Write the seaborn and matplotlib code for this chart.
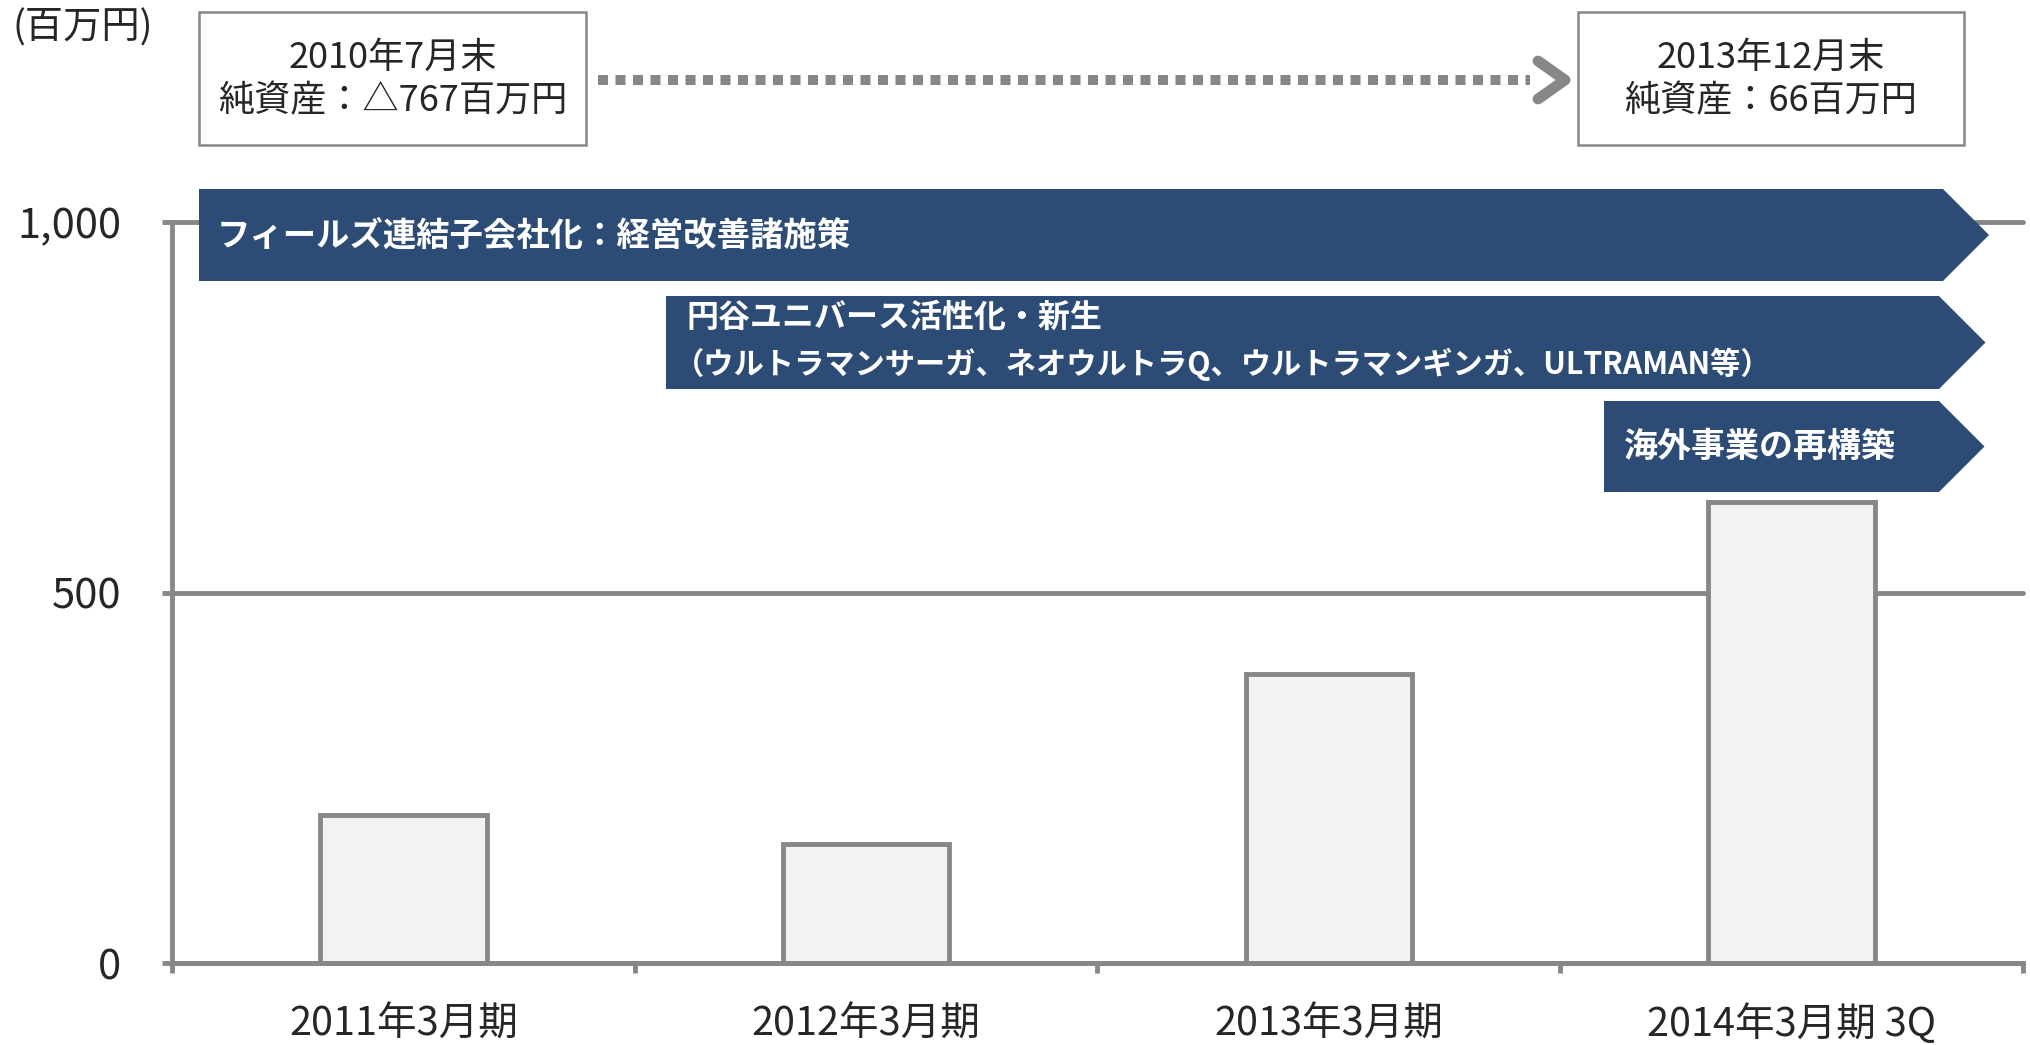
import numpy as np
import pandas as pd
import matplotlib
matplotlib.use("Agg")
import matplotlib.pyplot as plt
import seaborn as sns
from matplotlib.patches import Polygon, Rectangle
from matplotlib.lines import Line2D
from matplotlib.transforms import Affine2D

# ---- data ----
categories = ['2011年3月期', '2012年3月期', '2013年3月期', '2014年3月期 3Q']
values = [200, 160, 390, 622]
yticks = [0, 500, 1000]
ytick_labels = ['0', '500', '1,000']
unit_label = '(百万円)'
box_left = ['2010年7月末', '純資産：△767百万円']
box_right = ['2013年12月末', '純資産：66百万円']
banner1 = 'フィールズ連結子会社化：経営改善諸施策'
banner2 = ['円谷ユニバース活性化・新生',
           '（ウルトラマンサーガ、ネオウルトラQ、ウルトラマンギンガ、ULTRAMAN等）']
banner3 = '海外事業の再構築'

# ---- style ----
sns.set_style('white')
plt.rcParams['font.family'] = ['Noto Sans CJK JP', 'DejaVu Sans']

GRAY = '#878787'
NAVY = '#2d4c75'
BAR_FACE = '#f2f2f2'
W, H = 2031, 1045

fig = plt.figure(figsize=(W / 100, H / 100), dpi=100)
ax = fig.add_axes([172 / W, (H - 963) / H, (2023 - 172) / W, (963 - 222) / H])

df = pd.DataFrame({'period': categories, 'value': values})
sns.barplot(data=df, x='period', y='value', color=BAR_FACE, saturation=1,
            width=0.36, edgecolor=GRAY, linewidth=3.5, ax=ax, zorder=2)

ax.set_xlim(-0.5, len(categories) - 0.5)
ax.set_ylim(0, 1000)
ax.set_xlabel('')
ax.set_ylabel('')

# ticks
ax.set_yticks(yticks)
ax.set_yticklabels(ytick_labels, fontsize=30)
ax.set_xticks(range(len(categories)))
ax.set_xticklabels(categories, fontsize=28.5)
ax.set_xticks(np.arange(-0.5, len(categories), 1.0), minor=True)
ax.tick_params(axis='x', which='major', length=0, pad=30)
ax.tick_params(axis='x', which='minor', length=7.5, width=3.5, color=GRAY,
               direction='out', bottom=True)
ax.tick_params(axis='y', length=7.5, width=3.5, color=GRAY, pad=29,
               direction='out', left=True)

# grid and spines
ax.set_axisbelow(True)
ax.yaxis.grid(True, color=GRAY, linewidth=3.5)
ax.xaxis.grid(False)
for gl in ax.get_ygridlines():
    gl.set_clip_on(False)
for side in ['top', 'right']:
    ax.spines[side].set_visible(False)
for side in ['left', 'bottom']:
    ax.spines[side].set_color(GRAY)
    ax.spines[side].set_linewidth(3.5)

# ---- annotations in pixel coordinates ----
px = Affine2D().scale(1 / W, -1 / H).translate(0, 1) + fig.transFigure

fig.text(13, 28, unit_label, transform=px, fontsize=27.5, va='center', ha='left')

def info_box(x0, x1, lines):
    fig.add_artist(Rectangle((x0, 12), x1 - x0, 133, transform=px,
                             facecolor='white', edgecolor=GRAY, linewidth=1.8))
    cx = (x0 + x1) / 2
    fig.text(cx, 58, lines[0], transform=px, fontsize=26, ha='center', va='center')
    fig.text(cx, 101, lines[1], transform=px, fontsize=26, ha='center', va='center')

info_box(199, 586, box_left)
info_box(1578, 1964, box_right)

# dotted arrow between the boxes
fig.add_artist(Line2D([598, 1530], [80, 80], transform=px, color=GRAY,
                      linewidth=7.2, dashes=(1.0, 0.75), solid_capstyle='butt',
                      dash_capstyle='butt'))
fig.add_artist(Line2D([1538, 1565, 1538], [61, 80, 99], transform=px, color=GRAY,
                      linewidth=7.8, solid_capstyle='round', solid_joinstyle='round'))

def banner(x0, x1, y0, y1):
    ym = (y0 + y1) / 2
    tip = x1 + (y1 - y0) / 2
    pts = [(x0, y0), (x1, y0), (tip, ym), (x1, y1), (x0, y1)]
    fig.add_artist(Polygon(pts, closed=True, transform=px, facecolor=NAVY,
                           edgecolor='none'))

banner(199, 1943, 189, 281)
fig.text(217, 236, banner1, transform=px, fontsize=24, fontweight='bold',
         color='white', ha='left', va='center')

banner(666, 1939, 296, 389)
fig.text(686, 318, banner2[0], transform=px, fontsize=23, fontweight='bold',
         color='white', ha='left', va='center')
fig.text(674, 364, banner2[1], transform=px, fontsize=21.8, fontweight='bold',
         color='white', ha='left', va='center')

banner(1604, 1939, 401, 492)
fig.text(1624, 446, banner3, transform=px, fontsize=24.5, fontweight='bold',
         color='white', ha='left', va='center')

fig.savefig('out.png', dpi=100)
